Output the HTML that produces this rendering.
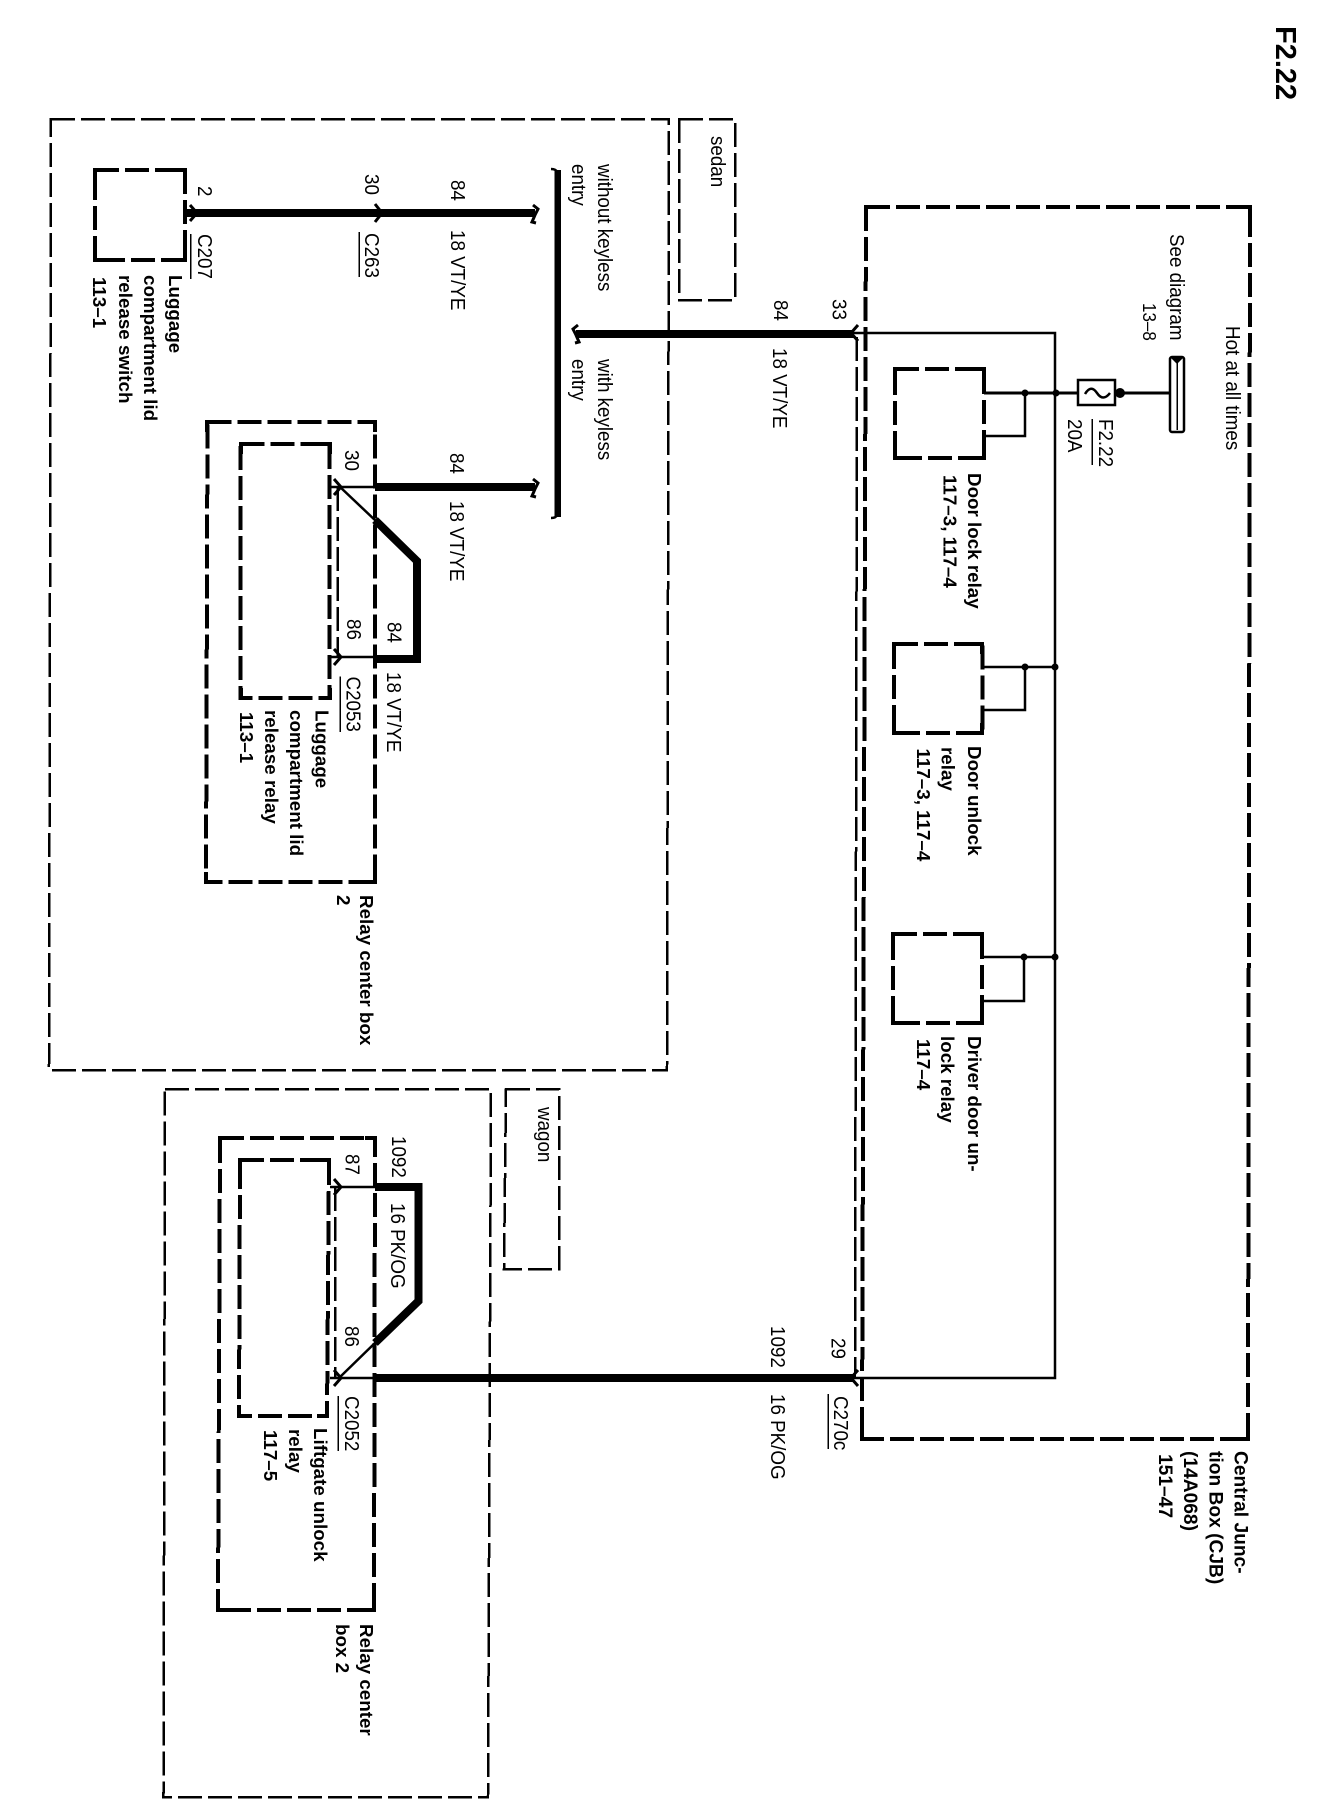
<!DOCTYPE html>
<html><head><meta charset="utf-8"><title>F2.22</title>
<style>
html,body{margin:0;padding:0;background:#fff}
svg{display:block}
text{font-family:"Liberation Sans",sans-serif;font-size:18.8px;fill:#000}
.b{font-weight:bold}
.l{fill:none;stroke:#000;shape-rendering:crispEdges}
.s{fill:none;stroke:#000}
.thin{stroke-width:2.5;stroke-dasharray:24 6}
.thick{stroke-width:4;stroke-dasharray:24 6}
</style></head><body>
<svg width="1328" height="1820" viewBox="0 0 1328 1820" xmlns="http://www.w3.org/2000/svg">
<!-- containers -->
<path class="l thin" d="M51 119H669L667 1070H49Z"/>
<path class="l thin" d="M679 119H735V300H679Z"/>
<path class="l thin" d="M165 1089H491L488 1797H163.500Z"/>
<path class="l thin" d="M506 1089H559V1269H504Z"/>
<path class="l thick" d="M866 207H1250L1248 1439H862Z"/>
<path class="l thin" d="M857 337L855 1378"/>
<path class="l thick" d="M95 170H185V260H95Z"/>
<path class="l thick" d="M207.500 422H375V882H206Z"/>
<path class="l thick" d="M240.500 444H329.500V698H240.500Z"/>
<path class="l thick" d="M220 1138H375L374 1610H218Z"/>
<path class="l thick" d="M240 1160H329L327 1416H239Z"/>
<path class="l thick" d="M895 369H984V458H895Z"/>
<path class="l thick" d="M894 644H982.500V733H894Z"/>
<path class="l thick" d="M893 934H982V1023H893Z"/>
<path class="l thin" d="M337.500 487V657"/>
<path class="l thin" d="M335 1187V1378"/>
<!-- solid box corners -->
<g class="l" stroke-width="4">
<path d="M95 180V170H105M175 170H185V180M185 250V260H175M105 260H95V250"/>
<path d="M207 432V422H217M365 422H375V432M375 872V882H365M216 882H206V872"/>
<path d="M241 454V444H251M320 444H330V454M330 688V698H320M251 698H241V688"/>
<path d="M220 1148V1138H230M365 1138H375V1148M374 1600V1610H364M228 1610H218V1600"/>
<path d="M240 1170V1160H250M319 1160H329V1170M327 1406V1416H317M249 1416H239V1406"/>
<path d="M895 379V369H905M974 369H984V379M984 448V458H974M905 458H895V448"/>
<path d="M894 654V644H904M972 644H982V654M982 723V733H972M904 733H894V723"/>
<path d="M893 944V934H903M972 934H982V944M982 1013V1023H972M903 1023H893V1013"/>
<path d="M866 217V207H876M1240 207H1250V217M1248 1429V1439H1238M872 1439H862V1429"/>
</g>
<!-- heavy wires -->
<path class="l" stroke-width="8" d="M185 213H535"/>
<path class="l" stroke-width="6.500" d="M557.500 170V517"/>
<path class="s" stroke-width="2.500" d="M551 169Q556 169 557 172M551 518Q556 518 557 515"/>
<path class="l" stroke-width="8" d="M576 334H854"/>
<path class="l" stroke-width="8" d="M375 487H535"/>
<path class="s" stroke-width="8" d="M375 520L417 561V659H375"/>
<path class="s" stroke-width="2.500" d="M330 487H375M339 486L377 522M330 657H375"/>
<path class="s" stroke-width="8" d="M375 1187H418.500V1301L375 1343"/>
<path class="s" stroke-width="2.500" d="M330 1187H375M339 1378L377 1341M330 1378H375"/>
<path class="l" stroke-width="8" d="M375 1378H854"/>
<path class="s" stroke-width="2.500" d="M854 333H1055V1378H854"/>
<!-- wire ends -->
<g class="s" fill="none" stroke="#000" stroke-width="3">
<path d="M190 205L197 213L190 221"/>
<path d="M375 204L382 213L375 222"/>
<path d="M533 205L538 209L535 215L532 222L536 223"/>
<path d="M533 479L538 483L535 489L532 496L536 497"/>
<path d="M578 325L573 329L576 335L579 342L575 343"/>
<path d="M858 325L851 333L858 341"/>
<path d="M858 1370L851 1378L858 1386"/>
<path d="M334 479L341 487L334 495"/>
<path d="M334 649L341 657L334 665"/>
<path d="M334 1179L341 1187L334 1195"/>
<path d="M334 1370L341 1378L334 1386"/>
</g>
<!-- fuse / feed -->
<path class="s" stroke-width="3" d="M984 393H1078M1116 393H1170"/>
<rect x="1078" y="380" width="37" height="25" fill="#fff" stroke="#000" stroke-width="2.500"/>
<path class="s" stroke-width="2.500" d="M1085 394Q1091 384 1097 393T1110 393"/>
<rect x="1170" y="357" width="14" height="75" rx="2" fill="#fff" stroke="#000" stroke-width="2.500"/>
<path d="M1170 357H1184L1177 364Z"/>
<path class="l" stroke-width="1.500" d="M1177 362V430"/>
<circle cx="1120" cy="393" r="5"/>
<path class="s" stroke-width="2.500" d="M984 436H1025V393"/>
<circle cx="1025" cy="393" r="3.500"/><circle cx="1056" cy="393" r="3.500"/>
<path class="s" stroke-width="2.500" d="M982 667H1055M982 710H1025V667"/>
<circle cx="1025" cy="667" r="3.500"/><circle cx="1055" cy="667" r="3.500"/>
<path class="s" stroke-width="2.500" d="M982 957H1055M982 1001H1024V957"/>
<circle cx="1024" cy="957" r="3.500"/><circle cx="1055" cy="957" r="3.500"/>
<!-- underlines -->
<path class="l" stroke-width="1.500" d="M190.500 234V279M359 232V277M340 676.500V732M338 1396V1451M828 1394V1449M1092 419V465"/>
<!-- labels -->
<text class="b" style="font-size:29px" transform="translate(1276 26) rotate(90)">F2.22</text>
<text transform="translate(711 136) rotate(90) scale(1 1.1)">sedan</text>
<text transform="translate(538 1107) rotate(90) scale(1 1.1)">wagon</text>
<text transform="translate(598 164) rotate(90) scale(1 1.1)">without keyless</text>
<text transform="translate(572 164) rotate(90) scale(1 1.1)">entry</text>
<text transform="translate(598 359) rotate(90) scale(1 1.1)">with keyless</text>
<text transform="translate(572 359) rotate(90) scale(1 1.1)">entry</text>
<text transform="translate(198 186) rotate(90) scale(1 1.1)">2</text>
<text transform="translate(198 234) rotate(90) scale(1 1.1)">C207</text>
<text transform="translate(365 174) rotate(90) scale(1 1.1)">30</text>
<text transform="translate(365 233) rotate(90) scale(1 1.1)">C263</text>
<text transform="translate(451 180) rotate(90) scale(1 1.1)">84</text>
<text transform="translate(451 230) rotate(90) scale(1 1.1)">18 VT/YE</text>
<text transform="translate(345 450) rotate(90) scale(1 1.1)">30</text>
<text transform="translate(450 453) rotate(90) scale(1 1.1)">84</text>
<text transform="translate(450 501) rotate(90) scale(1 1.1)">18 VT/YE</text>
<text transform="translate(347 619) rotate(90) scale(1 1.1)">86</text>
<text transform="translate(387.500 622) rotate(90) scale(1 1.1)">84</text>
<text transform="translate(387 672) rotate(90) scale(1 1.1)">18 VT/YE</text>
<text transform="translate(346.500 676.500) rotate(90) scale(1 1.1)">C2053</text>
<text transform="translate(774 300) rotate(90) scale(1 1.1)">84</text>
<text transform="translate(832.500 299) rotate(90) scale(1 1.1)">33</text>
<text transform="translate(773 348) rotate(90) scale(1 1.1)">18 VT/YE</text>
<text transform="translate(1170 234) rotate(90) scale(1 1.1)">See diagram</text>
<text transform="translate(1143 303) rotate(90) scale(1 1.1)" style="font-size:17px">13–8</text>
<text transform="translate(1226 326) rotate(90) scale(1 1.1)">Hot at all times</text>
<text transform="translate(1099 419) rotate(90) scale(1 1.1)">F2.22</text>
<text transform="translate(1068 419) rotate(90) scale(1 1.1)">20A</text>
<text transform="translate(392 1136) rotate(90) scale(1 1.1)">1092</text>
<text transform="translate(345.600 1154) rotate(90) scale(1 1.1)">87</text>
<text transform="translate(391 1203) rotate(90) scale(1 1.1)">16 PK/OG</text>
<text transform="translate(345 1326) rotate(90) scale(1 1.1)">86</text>
<text transform="translate(345 1396) rotate(90) scale(1 1.1)">C2052</text>
<text transform="translate(831.600 1338) rotate(90) scale(1 1.1)">29</text>
<text transform="translate(771 1326) rotate(90) scale(1 1.1)">1092</text>
<text transform="translate(771 1394) rotate(90) scale(1 1.1)">16 PK/OG</text>
<text transform="translate(834 1396) rotate(90) scale(1 1.1)">C270c</text>
<text class="b" transform="translate(169 275) rotate(90)">Luggage</text>
<text class="b" transform="translate(144 275) rotate(90)">compartment lid</text>
<text class="b" transform="translate(119 275) rotate(90)">release switch</text>
<text class="b" transform="translate(93 277) rotate(90)">113–1</text>
<text class="b" transform="translate(315.500 710) rotate(90)">Luggage</text>
<text class="b" transform="translate(290 710) rotate(90)">compartment lid</text>
<text class="b" transform="translate(265 710) rotate(90)">release relay</text>
<text class="b" transform="translate(240 712) rotate(90)">113–1</text>
<text class="b" transform="translate(360 895) rotate(90)">Relay center box</text>
<text class="b" transform="translate(337 895) rotate(90)">2</text>
<text class="b" transform="translate(968 473) rotate(90)">Door lock relay</text>
<text class="b" transform="translate(943.500 475) rotate(90)">117–3, 117–4</text>
<text class="b" transform="translate(968 746) rotate(90)">Door unlock</text>
<text class="b" transform="translate(941.500 747) rotate(90)">relay</text>
<text class="b" transform="translate(917 748.500) rotate(90)">117–3, 117–4</text>
<text class="b" transform="translate(968 1036) rotate(90)">Driver door un-</text>
<text class="b" transform="translate(941 1036) rotate(90)">lock relay</text>
<text class="b" transform="translate(917 1039) rotate(90)">117–4</text>
<text class="b" transform="translate(314 1428) rotate(90)">Liftgate unlock</text>
<text class="b" transform="translate(289 1429) rotate(90)">relay</text>
<text class="b" transform="translate(264 1430) rotate(90)">117–5</text>
<text class="b" transform="translate(360 1624) rotate(90)">Relay center</text>
<text class="b" transform="translate(336 1624) rotate(90)">box 2</text>
<text class="b" style="font-size:19.2px" transform="translate(1234.500 1451) rotate(90)">Central Junc-</text>
<text class="b" style="font-size:19.2px" transform="translate(1209.500 1451) rotate(90)">tion Box (CJB)</text>
<text class="b" style="font-size:19.2px" transform="translate(1184 1451) rotate(90)">(14A068)</text>
<text class="b" style="font-size:19.2px" transform="translate(1159 1454) rotate(90)">151–47</text>
</svg>
</body></html>
